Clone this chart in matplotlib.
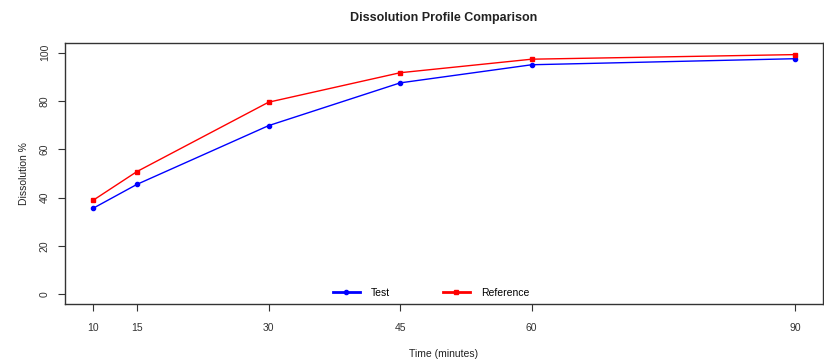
import matplotlib
matplotlib.use("Agg")
import matplotlib.pyplot as plt

time_points = [10, 15, 30, 45, 60, 90]
test_values = [35.6, 45.5, 69.8, 87.5, 95.0, 97.5]
reference_values = [38.9, 50.8, 79.5, 91.7, 97.3, 99.2]
y_ticks = [0, 20, 40, 60, 80, 100]

plt.rcParams['font.family'] = ['Liberation Sans', 'DejaVu Sans']

fig = plt.figure(figsize=(8.24, 3.63), dpi=100)
ax = fig.add_axes([65/824, 59/363, 758/824, 261/363])

ax.plot(time_points, test_values, color='blue', marker='o', markersize=3, lw=1, label='Test')
ax.plot(time_points, reference_values, color='red', marker='s', markersize=3.2, lw=1, label='Reference')

ax.set_xlim(6.8, 93.2)
ax.set_ylim(-4, 104)
ax.set_xticks(time_points)
ax.set_yticks(y_ticks)
ax.tick_params(axis='both', labelsize=7.5, length=5, width=0.8, color='#333333', labelcolor='#333333')
ax.tick_params(axis='x', pad=9)
ax.tick_params(axis='y', pad=6)
for lab in ax.get_yticklabels():
    lab.set_rotation(90)
    lab.set_va('center')
for s in ax.spines.values():
    s.set_color('#333333')
    s.set_linewidth(1)

ax.set_title('Dissolution Profile Comparison', fontsize=9, fontweight='bold', pad=16, color='#222222')
ax.set_xlabel('Time (minutes)', fontsize=7.5, labelpad=11, color='#222222')
ax.set_ylabel('Dissolution %', fontsize=7.5, labelpad=8, color='#222222')

leg = ax.legend(loc='lower center', ncol=2, frameon=False, fontsize=7.5, handlelength=2.6,
                handletextpad=1.1, columnspacing=5, borderaxespad=0.2,
                bbox_to_anchor=(0.483, 0.0))
for h in leg.legend_handles:
    h.set_linewidth(2)

fig.savefig('out.png', dpi=100)
